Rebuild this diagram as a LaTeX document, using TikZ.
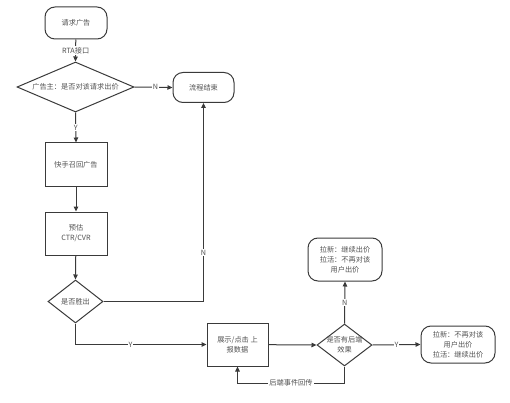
\documentclass[tikz,border=0pt]{standalone}
\usepackage{fontspec}
\setmainfont{Noto Sans CJK SC}
\usetikzlibrary{shapes.geometric,arrows.meta}
\definecolor{ln}{HTML}{3A3A3A}
\definecolor{tx}{HTML}{505050}
\tikzset{
  every node/.style={font=\fontsize{7.2pt}{10pt}\selectfont, text=tx},
  rbox/.style={draw=ln, line width=1pt, rounded corners=10pt, align=center, inner sep=0pt},
  sbox/.style={draw=ln, line width=1pt, align=center, inner sep=0pt},
  dia/.style={draw=ln, line width=1pt, diamond, inner sep=0pt},
  arr/.style={draw=ln, line width=1pt, -{Triangle[length=5pt,width=4.5pt]}},
  lab/.style={fill=white, inner sep=1pt}
}
\begin{document}
\begin{tikzpicture}[x=1pt,y=-1pt]
\useasboundingbox (0,0) rectangle (510,403);
\node[rbox, minimum width=62pt, minimum height=32pt] (start) at (76,23) {请求广告};
\node[dia, minimum width=117pt, minimum height=50pt, aspect=2.34] (d1) at (75.5,87) {};
\node at (d1.center) {广告主：是否对该请求出价};
\node[rbox, minimum width=61pt, minimum height=30pt] (endn) at (203.5,87.5) {流程结束};
\node[sbox, minimum width=62pt, minimum height=43pt] (recall) at (76,164.5) {快手召回广告};
\node[sbox, minimum width=62pt, minimum height=43pt] (est) at (76,233.5) {预估\\CTR/CVR};
\node[dia, minimum width=55pt, minimum height=43pt, aspect=1.28] (d2) at (75.5,301.5) {};
\node at (d2.center) {是否胜出};
\node[sbox, minimum width=61pt, minimum height=43pt] (show) at (237.5,344.5) {展示/点击 上\\报数据};
\node[dia, minimum width=55pt, minimum height=42pt, aspect=1.3] (d3) at (344.5,345) {};
\node[align=center] at (d3.center) {是否有后端\\效果};
\node[rbox, minimum width=74pt, minimum height=43pt] (nbox) at (345,259.5) {拉新：继续出价\\拉活：不再对该\\用户出价};
\node[rbox, minimum width=74pt, minimum height=37pt] (ybox) at (458,344.5) {拉新：不再对该\\用户出价\\拉活：继续出价};
\coordinate (fb) at (344.5,383);

\draw[arr] (start) -- node[lab]{RTA接口} (d1.north);
\draw[arr] (d1.east) -- node[lab, pos=0.55]{N} (endn.west);
\draw[arr] (d1.south) -- node[lab]{Y} (recall.north);
\draw[arr] (recall) -- (est);
\draw[arr] (est) -- (d2.north);
\draw[arr] (d2.east) -| node[lab, pos=0.623]{N} (endn.south);
\draw[arr] (d2.south) |- node[lab, pos=0.71]{Y} (show.west);
\draw[arr] (show) -- (d3.west);
\draw[arr] (d3.north) -- node[lab]{N} (nbox.south);
\draw[arr] (d3.east) -- node[lab, pos=0.5]{Y} (ybox.west);
\draw[arr] (d3.south) -- (fb) -| node[lab, pos=0.25]{后端事件回传} (show.south);
\end{tikzpicture}
\end{document}
